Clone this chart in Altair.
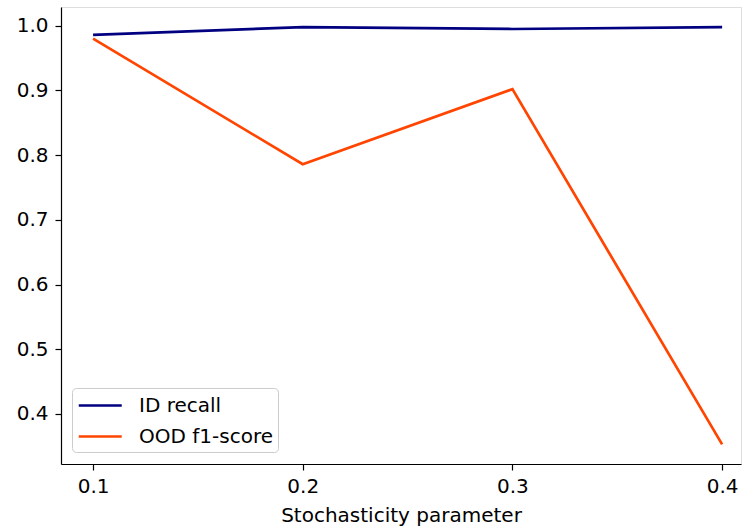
import altair as alt
import pandas as pd

stochasticity = [0.1, 0.2, 0.3, 0.4]
id_recall = [0.986, 0.998, 0.995, 0.998]
ood_f1 = [0.980, 0.786, 0.902, 0.353]
series_names = ["ID recall", "OOD f1-score"]
series_colors = ["#000080", "#FF4500"]

rows = []
for x, v in zip(stochasticity, id_recall):
    rows.append({"x": x, "value": v, "series": series_names[0]})
for x, v in zip(stochasticity, ood_f1):
    rows.append({"x": x, "value": v, "series": series_names[1]})
df = pd.DataFrame(rows)

FONT = "DejaVu Sans"
FS = 20

chart = alt.Chart(df).mark_line(strokeWidth=2.7).encode(
    x=alt.X("x:Q",
            scale=alt.Scale(domain=[0.0847, 0.409], nice=False, zero=False),
            axis=alt.Axis(values=stochasticity, format=".1f", title="Stochasticity parameter",
                          grid=False, tickSize=6, tickColor="black", domainColor="black",
                          tickWidth=1.2, domainWidth=1.2,
                          labelFontSize=FS, titleFontSize=FS, labelFont=FONT, titleFont=FONT,
                          labelColor="black", titleColor="black", labelPadding=6,
                          titlePadding=9, titleFontWeight="normal")),
    y=alt.Y("value:Q",
            scale=alt.Scale(domain=[0.3226, 1.029], nice=False, zero=False),
            axis=alt.Axis(values=[0.4, 0.5, 0.6, 0.7, 0.8, 0.9, 1.0], format=".1f", title=None,
                          grid=False, tickSize=6, tickColor="black", domainColor="black",
                          tickWidth=1.2, domainWidth=1.2,
                          labelFontSize=FS, labelFont=FONT, labelColor="black", labelPadding=7)),
    color=alt.Color("series:N",
                    scale=alt.Scale(domain=series_names, range=series_colors),
                    legend=alt.Legend(title=None, orient="none", legendX=11, legendY=381,
                                      symbolType="M-1,0H3", symbolStrokeWidth=2.7,
                                      symbolSize=462, labelFontSize=FS, labelFont=FONT,
                                      labelColor="black", labelOffset=37,
                                      strokeColor="#cccccc", fillColor="rgba(255,255,255,0.8)",
                                      cornerRadius=4, padding=5, rowPadding=8)),
).properties(
    width=680, height=457,
    padding={"left": 61, "top": 7, "right": 2, "bottom": 66},
    autosize=alt.AutoSizeParams(type="none"),
).configure_view(stroke="black", strokeWidth=1.2).configure(background="white")

chart.save("out.html", embed_options={"renderer": "svg", "actions": False})
